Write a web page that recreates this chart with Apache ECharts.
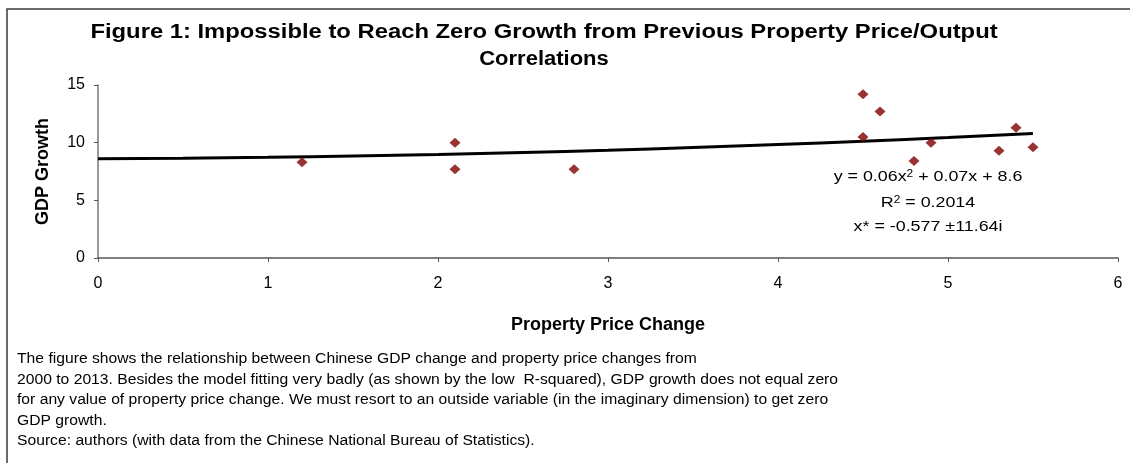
<!DOCTYPE html>
<html>
<head>
<meta charset="utf-8">
<script src="https://cdn.jsdelivr.net/npm/echarts@6/dist/echarts.min.js"></script>
<style>
  html, body { margin: 0; padding: 0; background: #fff; }
  #chart { width: 1130px; height: 463px; }
</style>
</head>
<body>
<div id="chart"></div>
<script>
  // scatter points: property price change vs GDP growth
  const priceChange = [1.2, 2.1, 2.1, 2.8, 4.5, 4.5, 4.6, 4.8, 4.9, 5.3, 5.4, 5.5]
  const gdpGrowth = [8.3, 10.0, 7.7, 7.7, 14.2, 10.5, 12.7, 8.4, 10.0, 9.3, 11.3, 9.6]

  // trend line
  const trendX = [0, 0.5, 1, 1.5, 2, 2.5, 3, 3.5, 4, 4.5, 5, 5.5]
  const trendY = [8.6, 8.65, 8.73, 8.84, 8.98, 9.15, 9.35, 9.58, 9.84, 10.13, 10.45, 10.8]

  const titleLines = ['Figure 1: Impossible to Reach Zero Growth from Previous Property Price/Output', 'Correlations']
  const noteLines = [
    'The figure shows the relationship between Chinese GDP change and property price changes from',
    '2000 to 2013. Besides the model fitting very badly (as shown by the low  R-squared), GDP growth does not equal zero',
    'for any value of property price change. We must resort to an outside variable (in the imaginary dimension) to get zero',
    'GDP growth.',
    'Source: authors (with data from the Chinese National Bureau of Statistics).'
  ]

  const font = '"Liberation Sans", Arial, sans-serif'
  // the original text is drawn a bit wider than its font height
  const stretch = 1.19
  const titleStretch = [1.19, 1.1]
  const noteStretch = 1.12

  const chart = echarts.init(document.getElementById('chart'))

  const graphics = [{
    type: 'rect',
    shape: { x: 7, y: 9, width: 1200, height: 600 },
    style: { fill: 'none', stroke: '#3a3a3a', lineWidth: 1.5 },
    silent: true
  }]

  titleLines.forEach((t, i) => {
    graphics.push({
      type: 'text',
      x: 544,
      y: 32 + i * 27,
      scaleX: titleStretch[i],
      style: { text: t, font: 'bold 20px ' + font, fill: '#000', align: 'center', verticalAlign: 'middle' }
    })
  })

  // equation box
  const eqRich = {
    n: { font: '15px ' + font, fill: '#000' },
    s: { font: '10px ' + font, fill: '#000', verticalAlign: 'top', padding: [0, 0, 6, 0] }
  }
  graphics.push({
    type: 'text',
    x: 928,
    y: 177,
    scaleX: stretch,
    style: { text: '{n|y = 0.06x}{s|2}{n| + 0.07x + 8.6}', align: 'center', verticalAlign: 'middle', rich: eqRich }
  })
  graphics.push({
    type: 'text',
    x: 928,
    y: 203,
    scaleX: stretch,
    style: { text: '{n|R}{s|2}{n| = 0.2014}', align: 'center', verticalAlign: 'middle', rich: eqRich }
  })
  graphics.push({
    type: 'text',
    x: 928,
    y: 227,
    scaleX: stretch,
    style: { text: 'x* = -0.577 \u00b111.64i', font: '15px ' + font, fill: '#000', align: 'center', verticalAlign: 'middle' }
  })

  noteLines.forEach((t, i) => {
    graphics.push({
      type: 'text',
      x: 17,
      y: 359.5 + i * 20.5,
      scaleX: noteStretch,
      style: { text: t, font: '14px ' + font, fill: '#000', verticalAlign: 'middle' }
    })
  })

  chart.setOption({
    animation: false,
    grid: {
      left: 98,
      right: 12,
      top: 85,
      bottom: 205
    },
    graphic: graphics,
    xAxis: {
      type: 'value',
      min: 0,
      max: 6,
      interval: 1,
      name: 'Property Price Change',
      nameLocation: 'middle',
      nameGap: 58,
      nameTextStyle: { fontFamily: font, fontSize: 18, fontWeight: 'bold', color: '#000' },
      axisLine: { show: true, lineStyle: { color: '#555', width: 1.5 } },
      axisTick: { show: true, length: 4, lineStyle: { color: '#555' } },
      axisLabel: { fontFamily: font, fontSize: 16, color: '#000', margin: 18 },
      splitLine: { show: false }
    },
    yAxis: {
      type: 'value',
      min: 0,
      max: 15,
      interval: 5,
      name: 'GDP Growth',
      nameLocation: 'middle',
      nameGap: 46,
      nameTextStyle: { fontFamily: font, fontSize: 18, fontWeight: 'bold', color: '#000' },
      axisLine: { show: true, lineStyle: { color: '#777', width: 1.5 } },
      axisTick: { show: true, length: 4, lineStyle: { color: '#555' } },
      axisLabel: { fontFamily: font, fontSize: 16, color: '#000', margin: 13 },
      splitLine: { show: false }
    },
    series: [{
      name: 'Trend',
      type: 'line',
      data: trendX.map((x, i) => [x, trendY[i]]),
      smooth: true,
      showSymbol: false,
      lineStyle: { color: '#000', width: 3 },
      z: 2
    }, {
      name: 'GDP',
      type: 'scatter',
      data: priceChange.map((x, i) => [x, gdpGrowth[i]]),
      symbol: 'diamond',
      symbolSize: [11, 10],
      itemStyle: { color: '#800000' },
      z: 3
    }]
  })
</script>
</body>
</html>
